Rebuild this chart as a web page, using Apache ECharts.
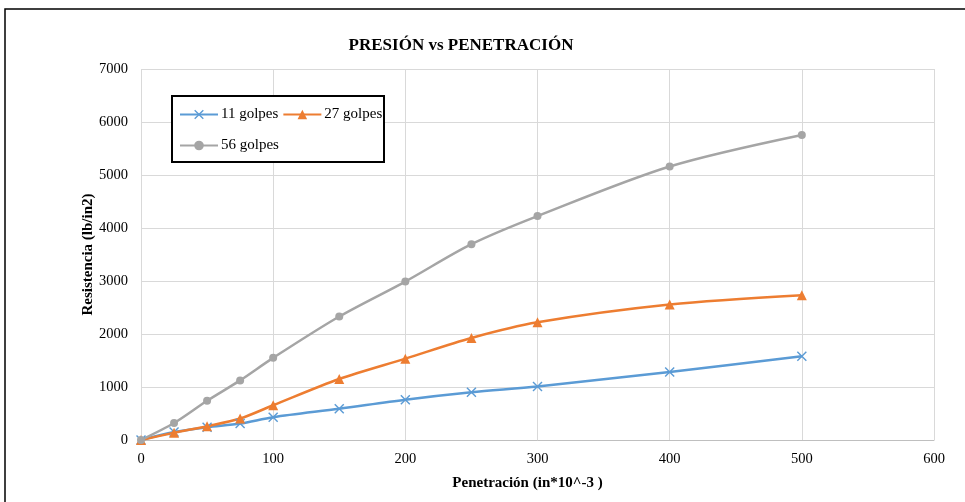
<!DOCTYPE html>
<html>
<head>
<meta charset="utf-8">
<script src="https://cdn.jsdelivr.net/npm/echarts@6/dist/echarts.min.js"></script>
<style>
    html, body { margin: 0; padding: 0; background: #fff; }
    #chart { width: 965px; height: 502px; }
</style>
</head>
<body>
<div id="chart"></div>
<script>
// penetración (in*10^-3)
var penetracion = [0, 25, 50, 75, 100, 150, 200, 250, 300, 400, 500];
// resistencia (lb/in2) por número de golpes
var golpes11 = [0, 150, 240, 310, 430, 590, 760, 900, 1010, 1285, 1580];
var golpes27 = [0, 136, 260, 405, 655, 1150, 1535, 1925, 2220, 2555, 2730];
var golpes56 = [0, 320, 740, 1125, 1550, 2330, 2990, 3695, 4225, 5160, 5755];
var nombres = ['11 golpes', '27 golpes', '56 golpes'];

var fuente = '"Liberation Serif", "Times New Roman", serif';
var crossIcon = 'path://M1,0L5,4L9,0L10,1L6,5L10,9L9,10L5,6L1,10L0,9L4,5L0,1Z';

function pares(ys) {
    return penetracion.map(function (x, i) { return [x, ys[i]]; });
}

function serie(nombre, ys, color, simbolo, tam) {
    return {
        name: nombre,
        type: 'line',
        data: pares(ys),
        smooth: 0.3,
        symbol: simbolo,
        symbolSize: tam,
        showAllSymbol: true,
        lineStyle: { color: color, width: 2.5 },
        itemStyle: { color: color },
        z: 3
    };
}

var legendText = { fontFamily: fuente, fontSize: 15, color: '#000', padding: [0, 0, 0, -2] };

var chart = echarts.init(document.getElementById('chart'));
chart.setOption({
    animation: false,
    backgroundColor: '#fff',
    textStyle: { fontFamily: fuente },
    title: {
        text: 'PRESIÓN vs PENETRACIÓN',
        left: 456,
        textAlign: 'center',
        top: 32,
        textStyle: { fontFamily: fuente, fontSize: 17, fontWeight: 'bold', color: '#000' }
    },
    graphic: [
        {
            type: 'rect',
            shape: { x: 5, y: 9, width: 1000, height: 600 },
            style: { fill: 'none', stroke: '#000', lineWidth: 1.5 },
            silent: true,
            z: 0
        },
        {
            type: 'rect',
            shape: { x: 172, y: 96, width: 212, height: 66 },
            style: { fill: '#fff', stroke: '#000', lineWidth: 2 },
            silent: true,
            z: 10
        }
    ],
    legend: [
        {
            data: [nombres[0], nombres[1]],
            left: 179,
            top: 107,
            itemWidth: 38,
            itemHeight: 12,
            itemGap: 4,
            padding: 0,
            z: 11,
            textStyle: legendText
        },
        {
            data: [nombres[2]],
            left: 179,
            top: 138,
            itemWidth: 38,
            itemHeight: 12,
            padding: 0,
            z: 11,
            textStyle: legendText
        }
    ],
    grid: { left: 141, right: 31, top: 69, bottom: 62, containLabel: false },
    xAxis: {
        type: 'value',
        min: 0,
        max: 600,
        interval: 100,
        name: 'Penetración (in*10^-3 )',
        nameLocation: 'middle',
        nameGap: 36,
        nameTextStyle: { fontFamily: fuente, fontSize: 15, fontWeight: 'bold', color: '#000', padding: [0, 20, 0, 0] },
        axisLine: { show: true, lineStyle: { color: '#bfbfbf', width: 1 } },
        axisTick: { show: false },
        axisLabel: { fontFamily: fuente, fontSize: 14.5, color: '#000', margin: 12 },
        splitLine: { show: true, lineStyle: { color: '#d9d9d9', width: 1 } }
    },
    yAxis: {
        type: 'value',
        min: 0,
        max: 7000,
        interval: 1000,
        name: 'Resistencia (lb/in2)',
        nameLocation: 'middle',
        nameGap: 45,
        nameMoveOverlap: false,
        nameTextStyle: { fontFamily: fuente, fontSize: 15, fontWeight: 'bold', color: '#000' },
        axisLine: { show: false },
        axisTick: { show: false },
        axisLabel: {
            fontFamily: fuente, fontSize: 14.5, color: '#000', margin: 13,
            formatter: function (v) { return String(v); }
        },
        splitLine: { show: true, lineStyle: { color: '#d9d9d9', width: 1 } }
    },
    series: [
        serie(nombres[0], golpes11, '#5B9BD5', crossIcon, 10),
        serie(nombres[1], golpes27, '#ED7D31', 'triangle', 10),
        serie(nombres[2], golpes56, '#A5A5A5', 'circle', 8)
    ]
});
</script>
</body>
</html>
